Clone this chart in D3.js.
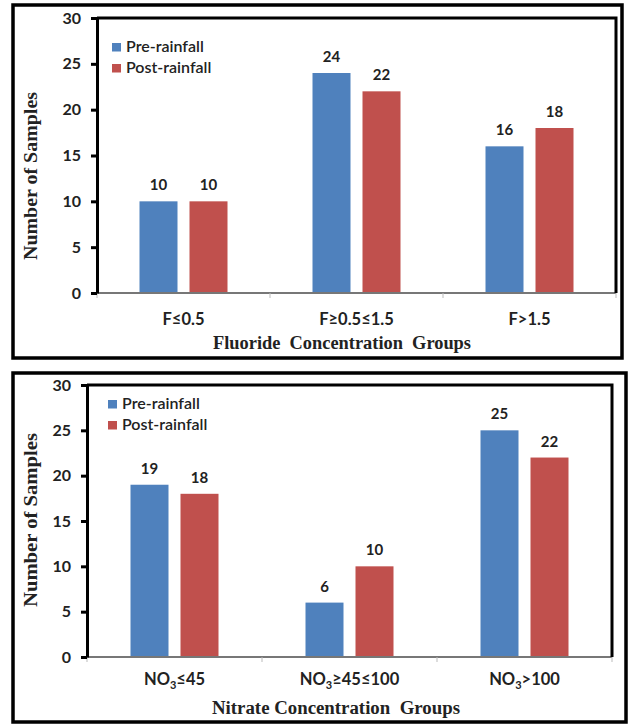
<!DOCTYPE html>
<html><head><meta charset="utf-8">
<script src="https://cdn.jsdelivr.net/npm/d3@7"></script>
<style>
body{margin:0;background:#fff;}
svg{display:block;font-family:Lato,"Open Sans",sans-serif;}
</style></head>
<body>
<script>
// ---- data ----
const series = ["Pre-rainfall", "Post-rainfall"];
const colors = ["#4F81BD", "#C0504D"];
const fluorideGroups = ["F≤0.5", "F≥0.5≤1.5", "F>1.5"];
const fluoridePre = [10, 24, 16];
const fluoridePost = [10, 22, 18];
const nitrateGroups = ["NO3≤45", "NO3≥45≤100", "NO3>100"];
const nitratePre = [19, 6, 25];
const nitratePost = [18, 10, 22];
const yTicks = [0, 5, 10, 15, 20, 25, 30];
const fluorideTitle = "Fluoride  Concentration  Groups";
const nitrateTitle = "Nitrate Concentration  Groups";
const yTitle = "Number of Samples";

const W = 629, H = 724;
const svg = d3.select("body").append("svg").attr("width", W).attr("height", H);
const SERIF = "'Liberation Serif', 'Times New Roman', serif";
const SANS = "Lato, 'Open Sans', sans-serif";

function panel(cfg) {
  const g = svg.append("g");
  // outer frame
  g.append("rect").attr("x", cfg.box[0]).attr("y", cfg.box[1])
    .attr("width", cfg.box[2] - cfg.box[0]).attr("height", cfg.box[3] - cfg.box[1])
    .attr("fill", "none").attr("stroke", "#000").attr("stroke-width", 3.5);

  const x0 = d3.scaleBand().domain(cfg.groups).range([cfg.left, cfg.right]);
  const x1 = d3.scaleBand().domain(series).range([0, 88]).paddingInner(0.24);
  const y = d3.scaleLinear().domain([0, 30]).range([cfg.bottom, cfg.top]);

  const data = cfg.groups.map((gname, i) => ({g: gname, vals: [cfg.pre[i], cfg.post[i]]}));

  // bars
  const grp = g.selectAll(".grp").data(data).enter().append("g")
    .attr("transform", d => `translate(${x0(d.g) + (x0.bandwidth() - 88) / 2},0)`);
  grp.selectAll("rect").data(d => d.vals.map((v, k) => ({s: series[k], v, k})))
    .enter().append("rect")
    .attr("x", d => x1(d.s)).attr("width", x1.bandwidth())
    .attr("y", d => y(d.v)).attr("height", d => y(0) - y(d.v))
    .attr("fill", d => colors[d.k]);
  grp.selectAll("text").data(d => d.vals.map((v, k) => ({s: series[k], v, k})))
    .enter().append("text")
    .attr("x", d => x1(d.s) + x1.bandwidth() / 2).attr("y", d => y(d.v) - 11)
    .attr("text-anchor", "middle").attr("font-size", 15).attr("font-weight", "bold")
    .style("font-family", SANS)
    .attr("fill", "#222").text(d => d.v);

  // baseline + category ticks
  g.append("line").attr("x1", cfg.left).attr("x2", cfg.right)
    .attr("y1", y(0)).attr("y2", y(0)).attr("stroke", "#777").attr("stroke-width", 2);
  const bounds = cfg.groups.map(d => x0(d)).concat([cfg.right]);
  g.selectAll(".xt").data(bounds).enter().append("line")
    .attr("x1", d => d).attr("x2", d => d).attr("y1", y(0)).attr("y2", y(0) + 5)
    .attr("stroke", "#bbb").attr("stroke-width", 1);

  // frame top/right
  g.append("path")
    .attr("d", `M${cfg.left},${cfg.top}H${cfg.right}V${y(0)}`)
    .attr("fill", "none").attr("stroke", "#000").attr("stroke-width", 3);

  // y axis
  const ya = g.append("g").attr("transform", `translate(${cfg.left},0)`)
    .call(d3.axisLeft(y).tickValues(yTicks).tickSize(6).tickPadding(10).tickSizeOuter(0));
  ya.select(".domain").attr("stroke", "#000").attr("stroke-width", 3);
  ya.selectAll(".tick line").attr("stroke", "#000").attr("stroke-width", 3);
  ya.selectAll(".tick text").attr("font-size", 16).attr("font-weight", "bold")
    .attr("fill", "#222").style("font-family", SANS);

  // x tick labels
  const xl = g.selectAll(".xl").data(cfg.groups).enter().append("text")
    .attr("x", d => x0(d) + x0.bandwidth() / 2).attr("y", cfg.xLabelY)
    .attr("text-anchor", "middle").attr("font-size", 16.5).attr("font-weight", "bold")
    .style("font-family", SANS).attr("fill", "#222");
  xl.each(function(d) {
    const t = d3.select(this);
    if (d.startsWith("NO3")) {
      t.append("tspan").text("NO");
      t.append("tspan").text("3").attr("font-size", 11).attr("dy", 4);
      t.append("tspan").text(d.slice(3)).attr("dy", -4);
    } else t.text(d);
  });

  // x title
  g.append("text").attr("x", cfg.titleX).attr("y", cfg.xTitleY)
    .attr("text-anchor", "middle").style("font-family", SERIF)
    .attr("font-size", 18).attr("font-weight", "bold").attr("fill", "#222")
    .attr("textLength", cfg.titleLen).attr("lengthAdjust", "spacingAndGlyphs")
    .style("white-space", "pre").text(cfg.title);

  // y title
  g.append("text")
    .attr("transform", `translate(${37},${cfg.yTitleC}) rotate(-90)`)
    .attr("text-anchor", "middle").style("font-family", SERIF)
    .attr("font-size", 18).attr("font-weight", "bold").attr("fill", "#222")
    .attr("textLength", cfg.yTitleLen).attr("lengthAdjust", "spacingAndGlyphs")
    .text(yTitle);

  // legend
  const lg = g.selectAll(".lg").data(series).enter().append("g")
    .attr("transform", (d, i) => `translate(${cfg.legend[0]},${cfg.legend[1] + i * 21})`);
  lg.append("rect").attr("width", 9).attr("height", 8.5).attr("y", -8.5)
    .attr("fill", (d, i) => colors[i]);
  lg.append("text").attr("x", 14).attr("y", 0.5).attr("font-size", 16).attr("font-weight", 600)
    .style("font-family", SANS).attr("fill", "#222").text(d => d);
}

panel({
  box: [13, 5, 622, 358], left: 97, right: 616, top: 18, bottom: 293,
  groups: fluorideGroups, pre: fluoridePre, post: fluoridePost,
  xLabelY: 325, xTitleY: 349, title: fluorideTitle, titleX: 342, titleLen: 258,
  yTitleC: 176, yTitleLen: 168, legend: [112, 51.5]
});
panel({
  box: [13, 373, 626, 722], left: 87, right: 612, top: 385, bottom: 657,
  groups: nitrateGroups, pre: nitratePre, post: nitratePost,
  xLabelY: 685, xTitleY: 714, title: nitrateTitle, titleX: 336, titleLen: 248,
  yTitleC: 520, yTitleLen: 174, legend: [108, 408.5]
});
</script>
</body></html>
